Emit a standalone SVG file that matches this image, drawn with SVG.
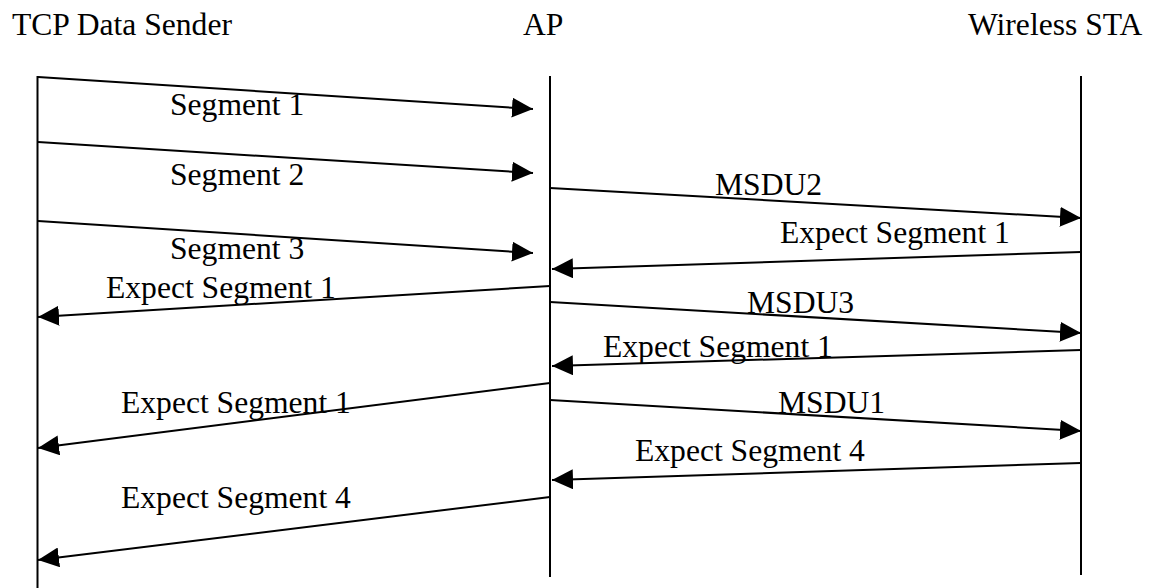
<svg xmlns="http://www.w3.org/2000/svg" width="1159" height="588" viewBox="0 0 1159 588">
  <style>
    text { font-family: "Liberation Serif", "Times New Roman", serif; font-size: 31.6px; fill: #000; }
    .life { stroke: #000; stroke-width: 2; fill: none; }
    .msg { stroke: #000; stroke-width: 2; fill: none; marker-end: url(#head); }
  </style>
  <defs>
    <marker id="head" markerUnits="userSpaceOnUse" markerWidth="21" markerHeight="20" refX="21" refY="10" orient="auto">
      <path d="M0,0 L21,10 L0,20 Z" fill="#000"/>
    </marker>
  </defs>
  <rect width="1159" height="588" fill="#fff"/>

  <g id="node-tcp-sender">
    <text x="12" y="35">TCP Data Sender</text>
    <line class="life" x1="37.5" y1="76" x2="37.5" y2="588"/>
  </g>
  <g id="node-ap">
    <text x="523" y="35">AP</text>
    <line class="life" x1="550" y1="76" x2="550" y2="577"/>
  </g>
  <g id="node-wireless-sta">
    <text x="968" y="35">Wireless STA</text>
    <line class="life" x1="1081" y1="76" x2="1081" y2="575"/>
  </g>

  <g id="connectors">
    <line class="msg" x1="38" y1="77" x2="533" y2="109"/>
    <line class="msg" x1="38" y1="142" x2="533" y2="173"/>
    <line class="msg" x1="38" y1="221" x2="533" y2="253"/>
    <line class="msg" x1="550" y1="286" x2="38" y2="317"/>
    <line class="msg" x1="550" y1="188" x2="1081" y2="218"/>
    <line class="msg" x1="1081" y1="252" x2="552" y2="269"/>
    <line class="msg" x1="550" y1="302" x2="1081" y2="333"/>
    <line class="msg" x1="1081" y1="350" x2="552" y2="366"/>
    <line class="msg" x1="550" y1="383" x2="38" y2="448"/>
    <line class="msg" x1="550" y1="400" x2="1081" y2="431"/>
    <line class="msg" x1="1081" y1="463" x2="552" y2="480"/>
    <line class="msg" x1="550" y1="497" x2="38" y2="560"/>
  </g>

  <g id="labels">
    <text x="170" y="115">Segment 1</text>
    <text x="170" y="185">Segment 2</text>
    <text x="170" y="259">Segment 3</text>
    <text x="106" y="298">Expect Segment 1</text>
    <text x="715" y="195">MSDU2</text>
    <text x="780" y="243">Expect Segment 1</text>
    <text x="747" y="313">MSDU3</text>
    <text x="603" y="357">Expect Segment 1</text>
    <text x="121" y="413">Expect Segment 1</text>
    <text x="778" y="413">MSDU1</text>
    <text x="635" y="461">Expect Segment 4</text>
    <text x="121" y="508">Expect Segment 4</text>
  </g>
</svg>
